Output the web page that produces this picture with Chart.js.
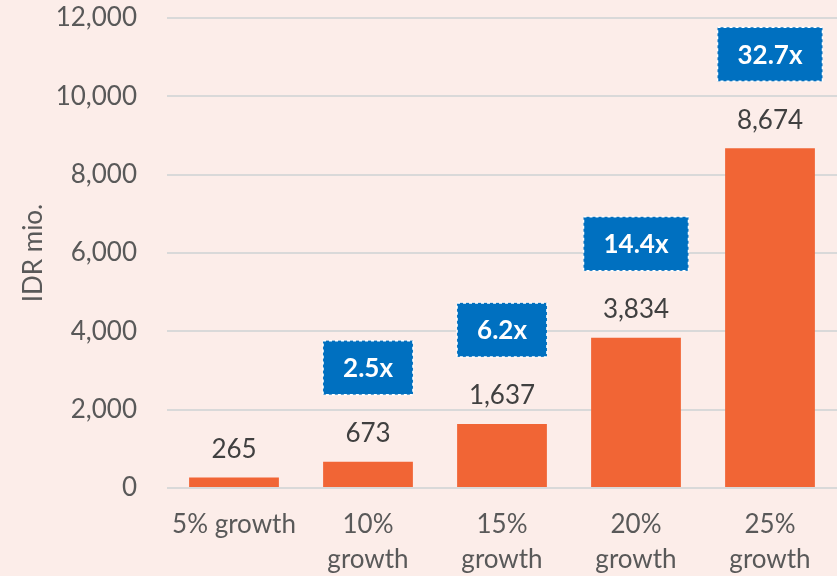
<!DOCTYPE html>
<html>
<head>
<meta charset="utf-8">
<script src="https://cdn.jsdelivr.net/npm/chart.js@4/dist/chart.umd.min.js"></script>
<style>
  html, body { margin: 0; padding: 0; background: #FCEDE9; }
  #wrap { width: 837px; height: 576px; }
</style>
</head>
<body>
<div id="wrap"><canvas id="growth-chart" width="837" height="576"></canvas></div>
<script>
"use strict"

// data
const categories = ['5% growth', ['10%', 'growth'], ['15%', 'growth'], ['20%', 'growth'], ['25%', 'growth']];
const values = [265, 673, 1637, 3834, 8674];
const multiples = [null, 2.5, 6.2, 14.4, 32.7];
const yTicks = [0, 2000, 4000, 6000, 8000, 10000, 12000];

const fontFamily = "Lato, 'Open Sans', sans-serif";

// value labels and blue multiple boxes above each bar
const barLabels = {
  id: 'barLabels',
  afterDatasetsDraw(chart) {
    const ctx = chart.ctx;
    const bars = chart.getDatasetMeta(0).data;
    ctx.save();
    bars.forEach(function (bar, i) {
      // value above bar
      ctx.font = "26px " + fontFamily;
      ctx.fillStyle = '#404040';
      ctx.textAlign = 'center';
      ctx.textBaseline = 'middle';
      ctx.fillText(values[i].toLocaleString('en-US'), bar.x, bar.y - 28);

      if (multiples[i] == null) return;
      const text = multiples[i].toFixed(1) + 'x';
      ctx.font = "bold 26px " + fontFamily;
      const w = ctx.measureText(text).width + 40;
      const h = 54;
      const cy = bar.y - 94;
      ctx.fillStyle = '#0070C0';
      ctx.fillRect(bar.x - w / 2, cy - h / 2, w, h);
      ctx.strokeStyle = '#ffffff';
      ctx.lineWidth = 1.5;
      ctx.setLineDash([3, 3]);
      ctx.strokeRect(bar.x - w / 2, cy - h / 2, w, h);
      ctx.setLineDash([]);
      ctx.fillStyle = '#ffffff';
      ctx.fillText(text, bar.x, cy + 1);
    });
    ctx.restore();
  }
};

const data = {
  labels: categories,
  datasets: [{
    data: values,
    backgroundColor: '#F16535',
    borderWidth: 0,
    categoryPercentage: 1,
    barPercentage: 0.67
  }]
};

const config = {
  type: 'bar',
  data,
  options: {
    responsive: false,
    animation: false,
    layout: { padding: 0 },
    plugins: {
      legend: { display: false },
      tooltip: { enabled: false }
    },
    scales: {
      x: {
        grid: { display: false, drawTicks: false },
        border: { display: false },
        ticks: {
          color: '#595959',
          padding: 19,
          maxRotation: 0,
          autoSkip: false,
          font: { family: fontFamily, size: 26, lineHeight: 1.36 }
        },
        afterFit(scale) { scale.height = 88; }
      },
      y: {
        min: 0,
        max: 12000,
        afterBuildTicks(scale) {
          scale.ticks = yTicks.map(v => ({ value: v }));
        },
        grid: { color: '#D9D9D9', lineWidth: 2, drawTicks: false },
        border: { display: false },
        ticks: {
          color: '#595959',
          padding: 30,
          font: { family: fontFamily, size: 26 },
          callback: v => v.toLocaleString('en-US')
        },
        title: {
          display: true,
          text: 'IDR mio.',
          color: '#595959',
          padding: { top: 18 },
          font: { family: fontFamily, size: 26 }
        },
        afterFit(scale) {
          scale.width = 167;
          scale.paddingTop = 18;
          scale.paddingBottom = 0;
        }
      }
    }
  },
  plugins: [barLabels]
};

const growthChart = new Chart(document.getElementById('growth-chart'), config);
</script>
</body>
</html>
